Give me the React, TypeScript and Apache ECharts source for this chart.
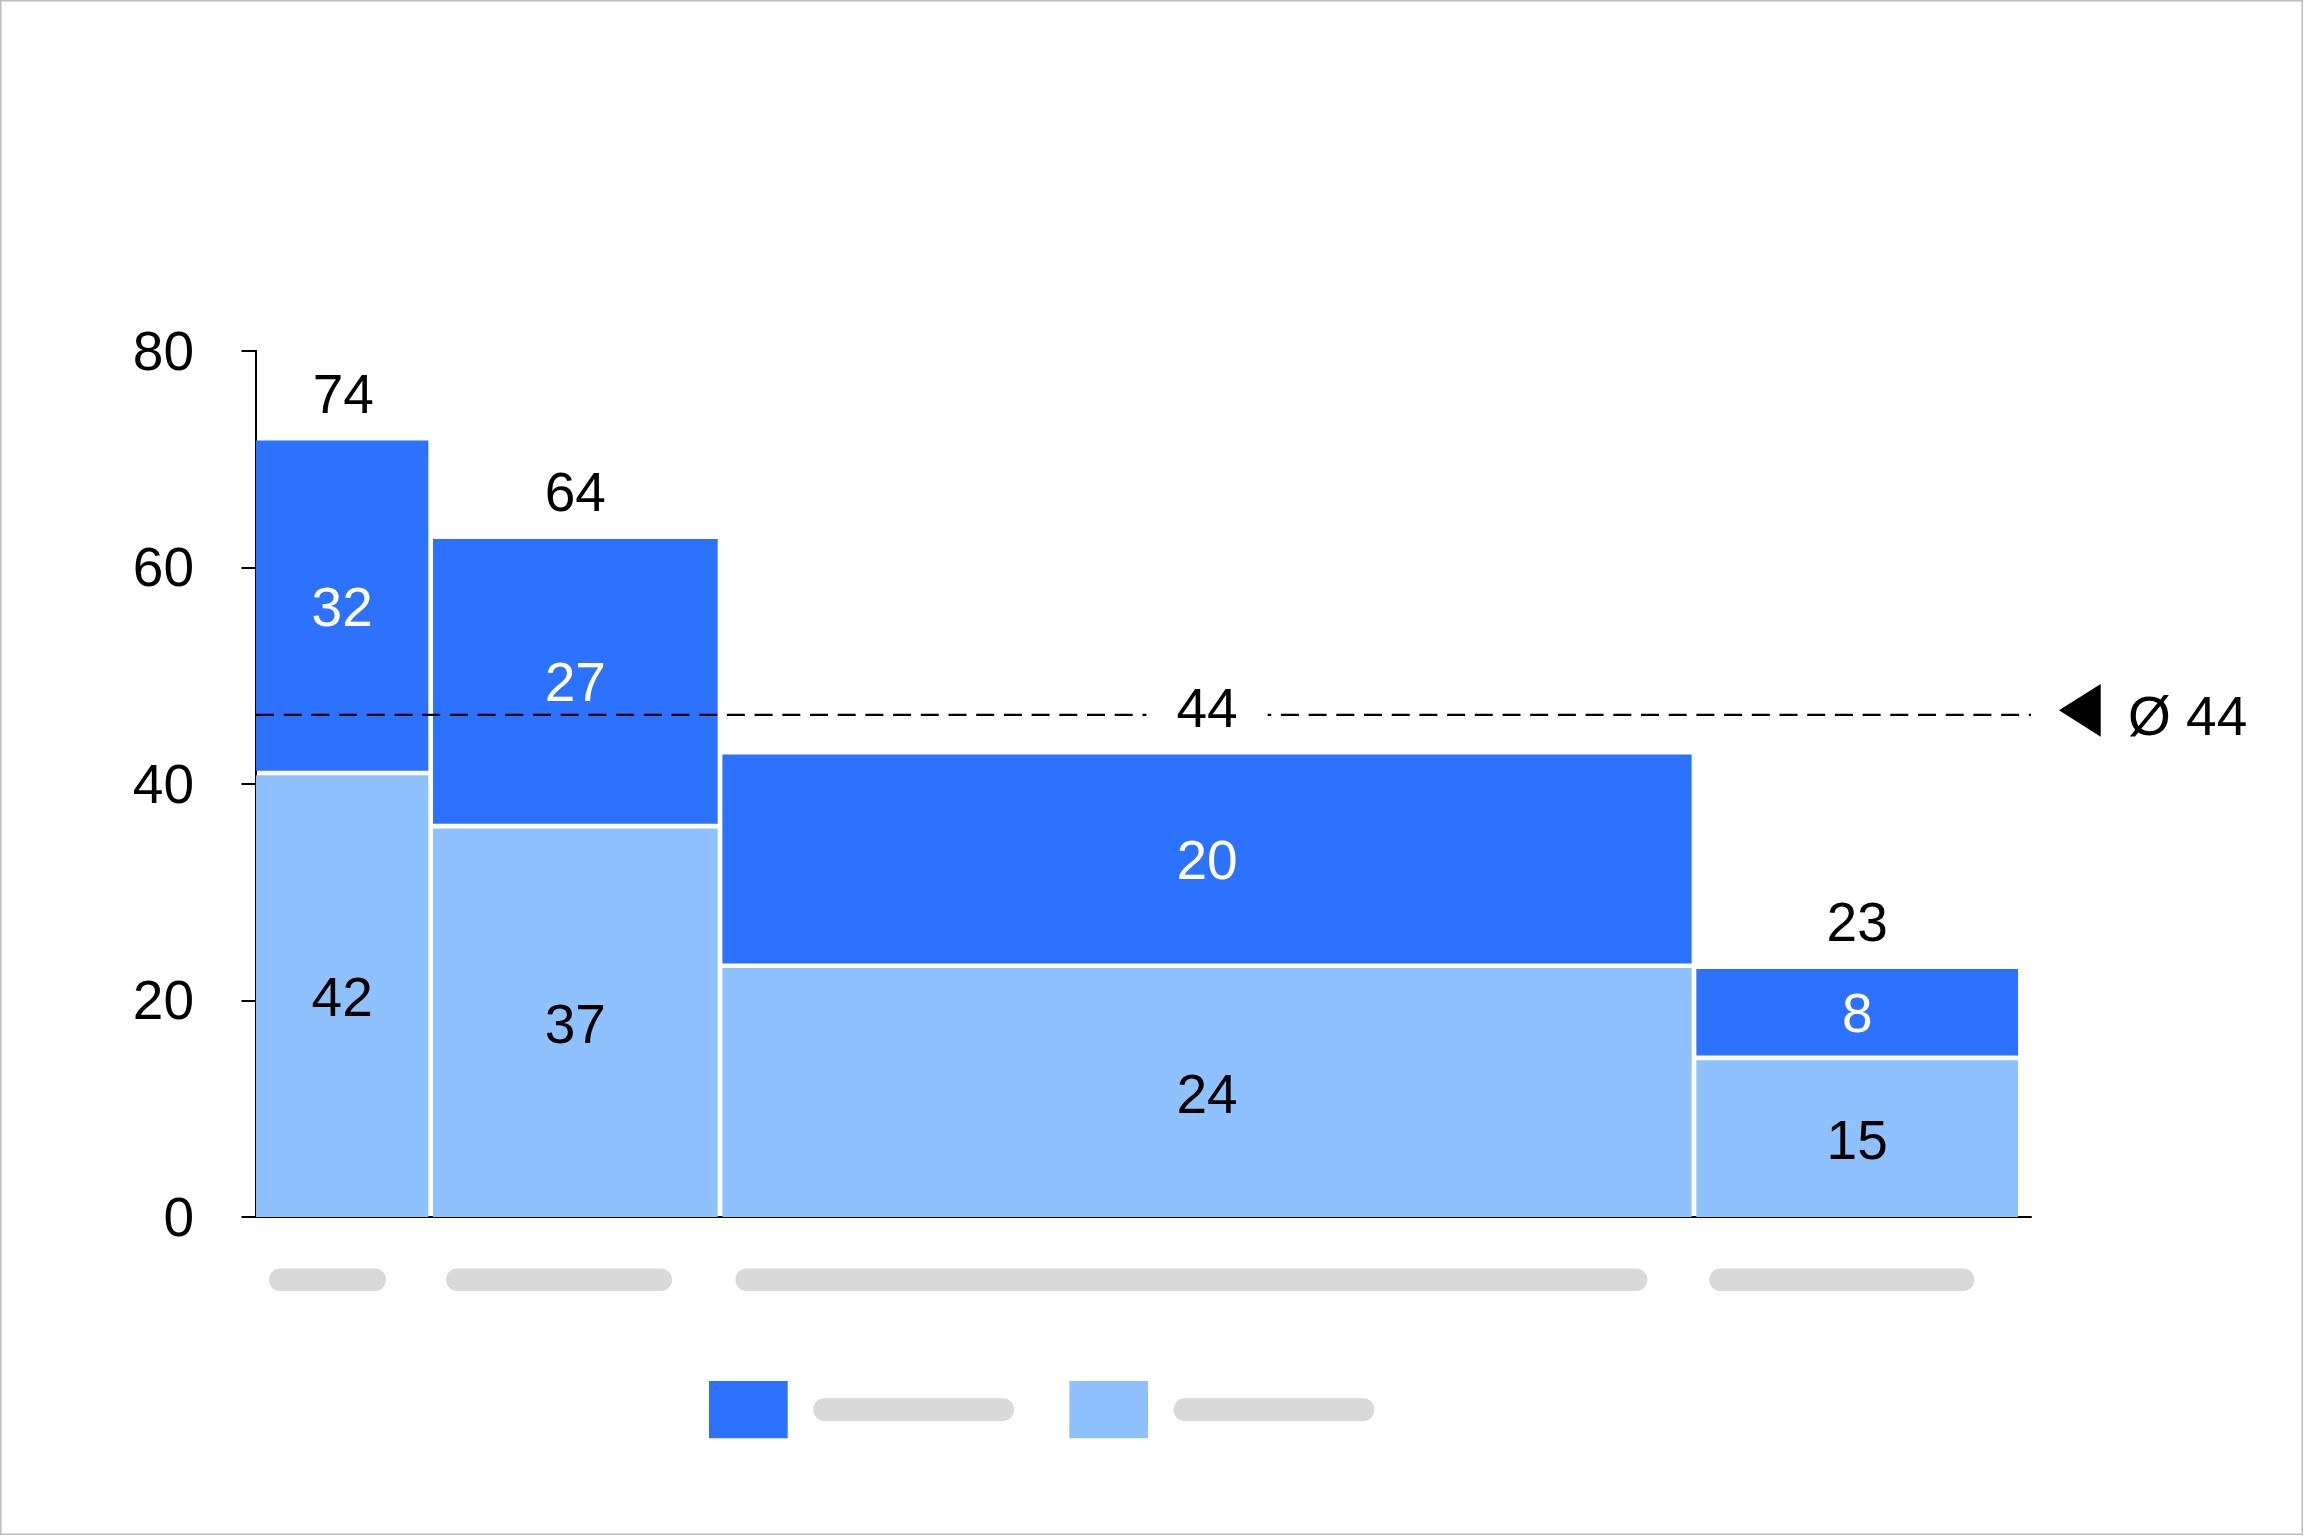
import React, { useEffect, useRef } from "react";
import * as echarts from "echarts";

// ---- data ----
const categories = ["Category 1", "Category 2", "Category 3", "Category 4"];
const categoryWidths = [9.9, 16.4, 55.2, 18.5]; // share of x axis (sum 100)
const lowerValues = [41.0, 36.1, 23.2, 14.7];
const upperValues = [30.7, 26.5, 19.5, 8.2];
const lowerLabels = [42, 37, 24, 15];
const upperLabels = [32, 27, 20, 8];
const totalLabels = [74, 64, 44, 23];
const averageLabel = 44;
const seriesNames = ["Segment A", "Segment B"]; // upper (dark), lower (light)
const yTicks = { min: 0, max: 80, interval: 20 };
const xMax = 100.6;

// placeholder widths for the (hidden) category names, px
const categoryPlaceholderWidths = [117, 226, 912, 265];

// ---- styles ----
const DARK = "#2C72FF";
const LIGHT = "#8FC1FF";
const GRAY = "#D9D9D9";
const FONT = "'Liberation Sans', Arial, Helvetica, sans-serif";
const FS = 55;
const GAP = 2.35;

export default function App() {
  const ref = useRef<HTMLDivElement>(null);

  useEffect(() => {
    if (!ref.current) return;
    const chart = echarts.init(ref.current, null, { renderer: "svg" });

    const starts: number[] = [];
    let acc = 0;
    categoryWidths.forEach((w) => {
      starts.push(acc);
      acc += w;
    });

    const lowerData = categories.map((c, i) => [
      starts[i],
      starts[i] + categoryWidths[i],
      0,
      lowerValues[i],
      lowerLabels[i],
      categoryPlaceholderWidths[i],
    ]);
    const upperData = categories.map((c, i) => [
      starts[i],
      starts[i] + categoryWidths[i],
      lowerValues[i],
      lowerValues[i] + upperValues[i],
      upperLabels[i],
    ]);
    const totalData = categories.map((c, i) => [
      starts[i],
      starts[i] + categoryWidths[i],
      lowerValues[i] + upperValues[i],
      totalLabels[i],
    ]);
    // weighted average of totals
    const avgValue =
      totalLabels.reduce((s, v, i) => s + v * categoryWidths[i], 0) /
      categoryWidths.reduce((s, v) => s + v, 0);

    const makeSeg = (isLower: boolean) => (params: any, api: any) => {
      const i = params.dataIndex;
      const x0 = api.value(0);
      const x1 = api.value(1);
      const yb = api.value(2);
      const yt = api.value(3);
      const pb = api.coord([x0, yb]);
      const pt = api.coord([x1, yt]);
      const left = pb[0] + (i > 0 ? GAP : 0);
      const right = pt[0] - GAP;
      const bottom = isLower ? pb[1] : pb[1] - GAP;
      const top = isLower ? pt[1] + GAP : pt[1];
      const children: any[] = [
        {
          type: "rect",
          shape: { x: left, y: top, width: right - left, height: bottom - top },
          style: { fill: isLower ? LIGHT : DARK },
        },
        {
          type: "text",
          x: (left + right) / 2,
          y: (top + bottom) / 2 + 1,
          style: {
            text: String(api.value(4)),
            fill: isLower ? "#000" : "#fff",
            fontSize: FS,
            fontFamily: FONT,
            align: "center",
            verticalAlign: "middle",
          },
        },
      ];
      if (isLower) {
        const phW = api.value(5);
        children.push({
          type: "rect",
          shape: { x: left + 13, y: pb[1] + 51.5, width: phW, height: 22.5, r: 11.25 },
          style: { fill: GRAY },
        });
      }
      return { type: "group", children };
    };

    const option: any = {
      animation: false,
      backgroundColor: "#fff",
      grid: { left: 256, right: 273, top: 350.7, bottom: 319, containLabel: false },
      xAxis: {
        type: "value",
        min: 0,
        max: xMax,
        axisLine: { show: true, onZero: false, lineStyle: { color: "#000", width: 2 } },
        axisTick: { show: false },
        axisLabel: { show: false },
        splitLine: { show: false },
      },
      yAxis: {
        type: "value",
        min: yTicks.min,
        max: yTicks.max,
        interval: yTicks.interval,
        axisLine: { show: true, onZero: false, lineStyle: { color: "#000", width: 2 } },
        axisTick: { show: true, length: 14.5, lineStyle: { color: "#000", width: 2 } },
        axisLabel: { fontSize: FS, color: "#000", margin: 62, fontFamily: FONT },
        splitLine: { show: false },
      },
      legend: {
        data: seriesNames,
        left: 709,
        top: 1381,
        padding: 0,
        icon: "rect",
        itemWidth: 78.7,
        itemHeight: 57.3,
        itemGap: 55.3,
        selectedMode: false,
        formatter: () => "{sp|}{ph|}",
        textStyle: {
          rich: {
            sp: { width: 20.6 },
            ph: { width: 200.7, height: 22.7, backgroundColor: GRAY, borderRadius: 11.3 },
          },
        },
      },
      graphic: [
        {
          type: "rect",
          shape: { x: 0.75, y: 0.75, width: 2301.5, height: 1533.5 },
          style: { fill: "none", stroke: "#BEBEBE", lineWidth: 1.5 },
          silent: true,
        },
      ],
      series: [
        {
          name: seriesNames[1],
          type: "custom",
          z: 2,
          itemStyle: { color: LIGHT },
          renderItem: makeSeg(true),
          encode: { x: [0, 1], y: [2, 3] },
          data: lowerData,
        },
        {
          name: seriesNames[0],
          type: "custom",
          z: 2,
          itemStyle: { color: DARK },
          renderItem: makeSeg(false),
          encode: { x: [0, 1], y: [2, 3] },
          data: upperData,
        },
        {
          name: "average",
          type: "custom",
          z: 3,
          renderItem: (params: any, api: any) => {
            const cs = params.coordSys;
            const p = api.coord([0, api.value(0)]);
            const y = p[1];
            const xr = cs.x + cs.width;
            return {
              type: "group",
              children: [
                {
                  type: "line",
                  shape: { x1: cs.x, y1: y, x2: xr, y2: y },
                  style: { stroke: "#000", lineWidth: 2.2, lineDash: [18, 9.7] },
                },
                {
                  type: "polygon",
                  shape: {
                    points: [
                      [xr + 28, y - 4.6],
                      [xr + 69.7, y - 31],
                      [xr + 69.7, y + 21.7],
                    ],
                  },
                  style: { fill: "#000" },
                },
                {
                  type: "text",
                  x: xr + 97,
                  y: y + 1,
                  style: {
                    text: "Ø " + api.value(1),
                    fill: "#000",
                    fontSize: FS,
                    fontFamily: FONT,
                    align: "left",
                    verticalAlign: "middle",
                  },
                },
              ],
            };
          },
          data: [[avgValue, averageLabel]],
        },
        {
          name: "totals",
          type: "custom",
          z: 4,
          renderItem: (params: any, api: any) => {
            const a = api.coord([api.value(0), api.value(2)]);
            const b = api.coord([api.value(1), api.value(2)]);
            const cx = (a[0] + b[0]) / 2;
            return {
              type: "text",
              x: cx,
              y: a[1] - 47,
              style: {
                text: String(api.value(3)),
                fill: "#000",
                fontSize: FS,
                fontFamily: FONT,
                align: "center",
                verticalAlign: "middle",
                backgroundColor: "#fff",
                padding: [0, 30],
              },
            };
          },
          encode: { x: [0, 1], y: 2 },
          data: totalData,
        },
      ],
    };

    chart.setOption(option);
    return () => chart.dispose();
  }, []);

  return (
    <div
      ref={ref}
      style={{ position: "fixed", left: 0, top: 0, width: "2304px", height: "1536px", background: "#fff" }}
    />
  );
}
